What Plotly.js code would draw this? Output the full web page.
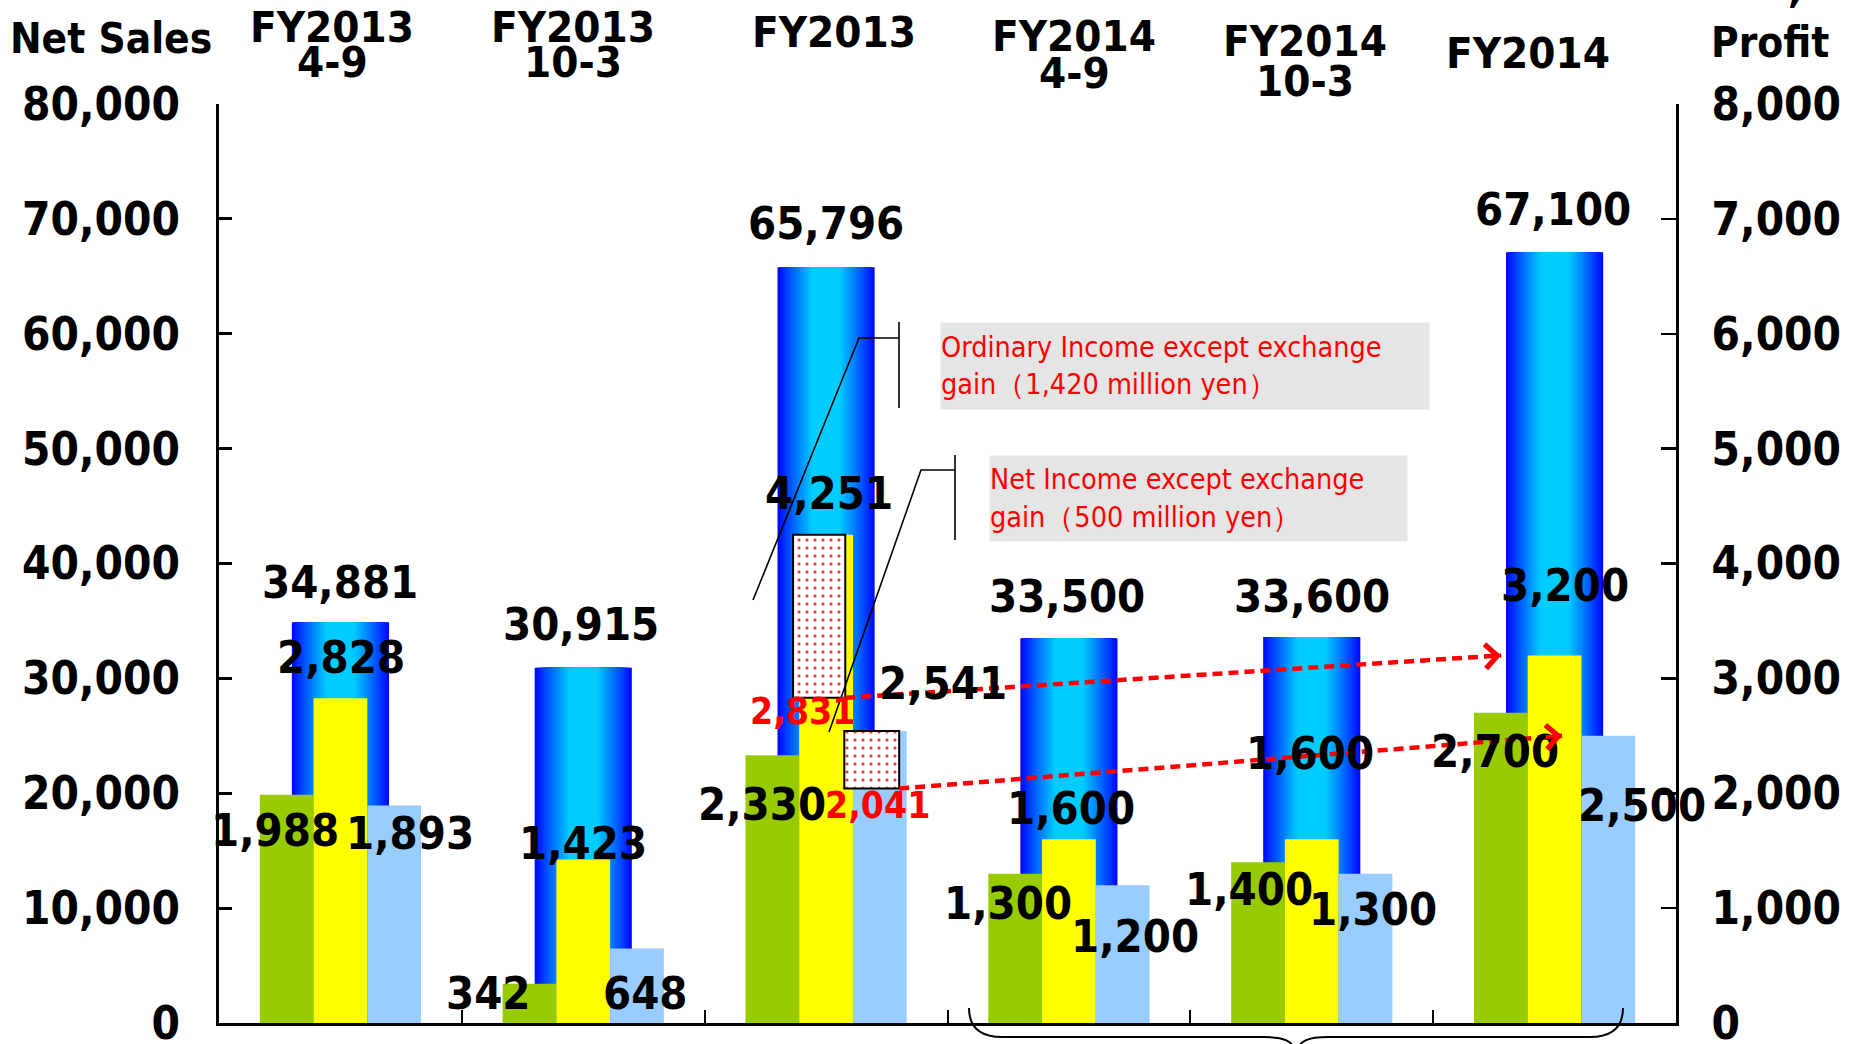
<!DOCTYPE html>
<html>
<head>
<meta charset="utf-8">
<script src="https://cdn.plot.ly/plotly-3.0.1.min.js"></script>
<style>
  html, body { margin: 0; padding: 0; background: #ffffff; }
  #chart { width: 1853px; height: 1044px; }
</style>
</head>
<body>
<div id="chart"></div>
<script>
// ---- Data (million yen) ----
const periods = ['FY2013 4-9', 'FY2013 10-3', 'FY2013', 'FY2014 4-9', 'FY2014 10-3', 'FY2014'];
const headingYear = ['FY2013', 'FY2013', 'FY2013', 'FY2014', 'FY2014', 'FY2014'];
const headingSpan = ['4-9', '10-3', '', '4-9', '10-3', ''];

const netSales        = [34881, 30915, 65796, 33500, 33600, 67100];   // left axis
const operatingIncome = [1988, 342, 2330, 1300, 1400, 2700];          // right axis
const ordinaryIncome  = [2828, 1423, 4251, 1600, 1600, 3200];
const netIncome       = [1893, 648, 2541, 1200, 1300, 2500];

// Exchange gain contained in the FY2013 full-year results
const exchangeGainOrdinary = 1420;
const exchangeGainNet = 500;
const gainPeriod = 2;
const ordinaryExGain = ordinaryIncome[gainPeriod] - exchangeGainOrdinary;  // 2,831
const netExGain = netIncome[gainPeriod] - exchangeGainNet;                  // 2,041

// ---- Page geometry ----
const W = 1853, H = 1044;
const M = { l: 219, r: 177, t: 104, b: 21 };
const PW = W - M.l - M.r, PH = H - M.t - M.b;
const X = px => (px - M.l) / PW;          // page pixel -> paper x
const Y = py => (H - M.b - py) / PH;      // page pixel -> paper y

const FAMILY = 'DejaVu Sans Condensed, DejaVu Sans, sans-serif';
const boldFont = (size, color) => ({ family: FAMILY, size: size, color: color || '#000000', weight: 'bold' });
const fmt = v => v.toLocaleString('en-US');

// ---- Net sales columns: cylinder shading built from nested bars ----
const SALES_W = 0.4, STEPS = 26;
function sheen(d) {           // d = 0 at the column centre, 1 at its edge
  const t = Math.min(1, Math.max(0, (d - 0.28) / 0.72));
  const g = Math.round(204 * Math.pow(1 - t, 0.9));
  return 'rgb(0,' + g + ',255)';
}
const traces = [];
for (let k = 0; k < STEPS; k++) {
  const w = SALES_W * (1 - k / STEPS);
  const d = 1 - (k + 0.5) / STEPS;
  traces.push({
    type: 'bar', x: periods, y: netSales, yaxis: 'y',
    width: w, offset: -w / 2,
    marker: { color: sheen(d), line: { width: 0 } },
    hoverinfo: 'skip', showlegend: false
  });
}

// ---- Profit columns (right axis) ----
const BW = 0.2213;
const profitSeries = [
  { y: operatingIncome, color: '#99CC00', offset: -1.5 * BW },
  { y: ordinaryIncome,  color: '#FFFF00', offset: -0.5 * BW },
  { y: netIncome,       color: '#99CCFF', offset:  0.5 * BW }
];
profitSeries.forEach(s => traces.push({
  type: 'bar', x: periods, y: s.y, yaxis: 'y2',
  width: BW, offset: s.offset,
  marker: { color: s.color, line: { width: 0 } },
  hoverinfo: 'skip', showlegend: false
}));

// Exchange-gain portions, dotted
const gainBoxes = [
  { base: ordinaryExGain, h: exchangeGainOrdinary, offset: -0.136, width: 0.215 },
  { base: netExGain,      h: exchangeGainNet,      offset:  0.075, width: 0.226 }
];
gainBoxes.forEach(g => traces.push({
  type: 'bar', x: [periods[gainPeriod]], y: [g.h], base: [g.base], yaxis: 'y2',
  width: g.width, offset: g.offset,
  marker: {
    color: '#ffffff',
    line: { color: '#000000', width: 2 },
    pattern: { shape: '.', fgcolor: '#FF3030', bgcolor: '#ffffff', size: 8, solidity: 0.12 }
  },
  hoverinfo: 'skip', showlegend: false
}));

// ---- Value labels ----
// pixel nudges [dx, dy] from the top of each column (dy upward)
const salesNudge     = [[0, 40], [-2, 43], [0, 44], [-2, 42], [0, 41], [-2, 43]];
const operatingNudge = [[-65, -36], [-95, -10], [-64, -49], [-61, -30], [-63, -27], [-60, -39]];
const ordinaryNudge  = [[1, 41], [0, 16], [3, 41], [2, 31], [-2, 86], [10, 70]];
const netNudge       = [[70, -28], [62, -45], [117, 48], [66, -51], [61, -36], [87, -70]];

const LABEL_SIZE = 45;
const annotations = [];
function valueLabels(values, nudge, yref) {
  values.forEach((v, i) => annotations.push({
    x: i, y: v, xref: 'x', yref: yref, text: fmt(v), showarrow: false,
    xanchor: 'center', yanchor: 'middle', xshift: nudge[i][0], yshift: nudge[i][1],
    font: boldFont(LABEL_SIZE)
  }));
}
valueLabels(netSales, salesNudge, 'y');
valueLabels(operatingIncome, operatingNudge, 'y2');
valueLabels(ordinaryIncome, ordinaryNudge, 'y2');
valueLabels(netIncome, netNudge, 'y2');

// Results excluding the exchange gain (red)
[[ordinaryExGain, -24, -14], [netExGain, 51, -17]].forEach(r => annotations.push({
  x: gainPeriod, y: r[0], xref: 'x', yref: 'y2', text: fmt(r[0]), showarrow: false,
  xanchor: 'center', yanchor: 'middle', xshift: r[1], yshift: r[2],
  font: boldFont(37, '#FF0000')
}));

// ---- Column headings and axis titles ----
const headPos = [
  [332, 27, 62], [573, 27, 62], [834, 32, null],
  [1074, 36, 73], [1305, 41, 81], [1528, 53, null]
];
headingYear.forEach((t, i) => {
  const p = headPos[i];
  annotations.push({ xref: 'paper', yref: 'paper', x: X(p[0]), y: Y(p[1]), text: t,
    showarrow: false, xanchor: 'center', yanchor: 'middle', borderpad: 0, font: boldFont(43.5) });
  if (headingSpan[i]) {
    annotations.push({ xref: 'paper', yref: 'paper', x: X(p[0]), y: Y(p[2]), text: headingSpan[i],
      showarrow: false, xanchor: 'center', yanchor: 'middle', borderpad: 0, font: boldFont(43.5) });
  }
});
annotations.push({ xref: 'paper', yref: 'paper', x: X(111), y: Y(38), text: 'Net Sales',
  showarrow: false, xanchor: 'center', yanchor: 'middle', font: boldFont(42) });
annotations.push({ xref: 'paper', yref: 'paper', x: X(1770), y: Y(43), text: 'Profit',
  showarrow: false, xanchor: 'center', yanchor: 'middle', font: boldFont(42) });
annotations.push({ xref: 'paper', yref: 'paper', x: X(1795), y: Y(-13), text: ',',
  showarrow: false, xanchor: 'center', yanchor: 'middle', font: boldFont(42) });

// ---- Notes on the exchange gain ----
annotations.push({
  xref: 'paper', yref: 'paper', x: X(939.5), y: Y(322), xanchor: 'left', yanchor: 'top',
  width: 488, height: 86, align: 'left', valign: 'middle', borderpad: 0,
  bgcolor: '#E5E5E5', showarrow: false,
  text: 'Ordinary Income except exchange<br>gain（' + fmt(exchangeGainOrdinary) + ' million yen）',
  font: { family: FAMILY, size: 28.5, color: '#FF0000' }
});
annotations.push({
  xref: 'paper', yref: 'paper', x: X(989), y: Y(455), xanchor: 'left', yanchor: 'top',
  width: 417, height: 85, align: 'left', valign: 'middle', borderpad: 0,
  bgcolor: '#E5E5E5', showarrow: false,
  text: 'Net Income except exchange<br>gain（' + exchangeGainNet + ' million yen）',
  font: { family: FAMILY, size: 28.5, color: '#FF0000' }
});

// ---- Trend arrows from the FY2013 figures excluding the gain ----
const trendArrows = [
  { x0: gainPeriod + gainBoxes[0].offset + gainBoxes[0].width, y0: ordinaryExGain, x1: 4.78, y1: ordinaryIncome[5], ay: 1.2 },
  { x0: gainPeriod + gainBoxes[1].offset + gainBoxes[1].width, y0: netExGain, x1: 5.031, y1: netIncome[5], ay: 1.4 }
];
const shapes = [];
trendArrows.forEach(a => {
  shapes.push({ type: 'line', xref: 'x', yref: 'y2', x0: a.x0, y0: a.y0, x1: a.x1, y1: a.y1,
    line: { color: '#FF0000', width: 4.5, dash: '10px,6px' }, layer: 'above' });
  annotations.push({ xref: 'x', yref: 'y2', x: a.x1, y: a.y1, text: '', showarrow: true,
    ax: -18, ay: a.ay, arrowhead: 4, arrowsize: 1.3, arrowwidth: 3.6, arrowcolor: '#FF0000' });
});

// ---- Callout leaders ----
const P = (px, py) => X(px).toFixed(5) + ',' + Y(py).toFixed(5);
const leader = { color: '#000000', width: 1.6 };
shapes.push({ type: 'path', xref: 'paper', yref: 'paper', layer: 'above', line: leader,
  path: 'M' + P(753, 600) + 'L' + P(859, 338) + 'L' + P(899, 338) });
shapes.push({ type: 'line', xref: 'paper', yref: 'paper', layer: 'above', line: leader,
  x0: X(899), y0: Y(322), x1: X(899), y1: Y(408) });
shapes.push({ type: 'path', xref: 'paper', yref: 'paper', layer: 'above', line: leader,
  path: 'M' + P(829, 732) + 'L' + P(921, 470) + 'L' + P(955, 470) });
shapes.push({ type: 'line', xref: 'paper', yref: 'paper', layer: 'above', line: leader,
  x0: X(955), y0: Y(455), x1: X(955), y1: Y(540) });

// ---- Brace under the FY2014 columns ----
shapes.push({ type: 'path', xref: 'paper', yref: 'paper', layer: 'above',
  line: { color: '#000000', width: 2 },
  path: 'M' + P(969, 1008) + 'C' + P(969, 1028) + ' ' + P(980, 1037) + ' ' + P(1002, 1037) +
        'L' + P(1264, 1037) + 'C' + P(1284, 1037) + ' ' + P(1293, 1041) + ' ' + P(1296, 1052) +
        'C' + P(1299, 1041) + ' ' + P(1308, 1037) + ' ' + P(1328, 1037) +
        'L' + P(1590, 1037) + 'C' + P(1612, 1037) + ' ' + P(1623, 1028) + ' ' + P(1623, 1008) });

const layout = {
  width: W, height: H,
  margin: M,
  paper_bgcolor: '#ffffff', plot_bgcolor: 'rgba(0,0,0,0)',
  barmode: 'overlay',
  showlegend: false,
  hovermode: false,
  xaxis: {
    type: 'category', range: [-0.5, 5.5], fixedrange: true,
    showline: true, linecolor: '#000000', linewidth: 3,
    ticks: 'inside', tickson: 'boundaries', ticklen: 13, tickwidth: 2, tickcolor: '#000000',
    showticklabels: false, showgrid: false, zeroline: false
  },
  yaxis: {
    range: [0, 80000], dtick: 10000, tickformat: ',d',
    showline: true, linecolor: '#000000', linewidth: 3,
    ticks: 'inside', ticklen: 13, tickwidth: 3, tickcolor: '#000000',
    ticklabelstandoff: 27, ticklabeloverflow: 'allow',
    tickfont: boldFont(45.5), showgrid: false, zeroline: false, fixedrange: true
  },
  yaxis2: {
    overlaying: 'y', side: 'right',
    range: [0, 8000], dtick: 1000, tickformat: ',d',
    showline: true, linecolor: '#000000', linewidth: 2.5,
    ticks: 'inside', ticklen: 15, tickwidth: 2.5, tickcolor: '#000000',
    ticklabelstandoff: 24, ticklabeloverflow: 'allow',
    tickfont: boldFont(45.5), showgrid: false, zeroline: false, fixedrange: true
  },
  annotations: annotations,
  shapes: shapes
};

Plotly.newPlot('chart', traces, layout, { staticPlot: true, displayModeBar: false });
</script>
</body>
</html>
